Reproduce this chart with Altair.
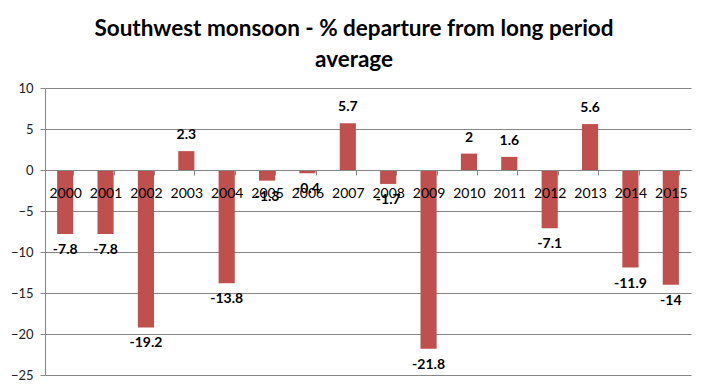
import altair as alt
import pandas as pd

years = ["2000", "2001", "2002", "2003", "2004", "2005", "2006", "2007",
         "2008", "2009", "2010", "2011", "2012", "2013", "2014", "2015"]
values = [-7.8, -7.8, -19.2, 2.3, -13.8, -1.3, -0.4, 5.7,
          -1.7, -21.8, 2, 1.6, -7.1, 5.6, -11.9, -14]
labels = ["-7.8", "-7.8", "-19.2", "2.3", "-13.8", "-1.3", "-0.4", "5.7",
          "-1.7", "-21.8", "2", "1.6", "-7.1", "5.6", "-11.9", "-14"]
y_ticks = [-25, -20, -15, -10, -5, 0, 5, 10]
title_lines = ["Southwest monsoon - % departure from long period", "average"]

df = pd.DataFrame({"year": years, "value": values, "label": labels})

GRID = "#868686"
FONT = "Lato"

x_scale = alt.Scale(paddingInner=0.6, paddingOuter=0.3)
y_scale = alt.Scale(domain=[-25, 10], nice=False)

x_main = alt.X(
    "year:N", sort=years, scale=x_scale,
    axis=alt.Axis(title=None, orient="bottom", offset=-205, tickBand="extent",
                  labelAngle=0, labelFont=FONT, labelFontSize=14, labelColor="black",
                  domainColor=GRID, tickColor=GRID, tickSize=5, labelPadding=11,
                  grid=False, zindex=1),
)
y_main = alt.Y(
    "value:Q", scale=y_scale,
    axis=alt.Axis(title=None, values=y_ticks, grid=True, gridColor=GRID,
                  domainColor=GRID, tickColor=GRID, tickSize=5,
                  labelFont=FONT, labelFontSize=13, labelColor="#222222",
                  labelPadding=7),
)

bars = alt.Chart(df).mark_bar(color="#C0504D").encode(x=x_main, y=y_main)

pos = alt.Chart(df).transform_filter("datum.value >= 0").mark_text(
    baseline="bottom", dy=-9, font=FONT, fontWeight="bold", fontSize=14, color="black"
).encode(x=x_main, y=y_main, text="label:N")

neg = alt.Chart(df).transform_filter("datum.value < 0").mark_text(
    baseline="top", dy=9, font=FONT, fontWeight="bold", fontSize=14, color="black"
).encode(x=x_main, y=y_main, text="label:N")

chart = alt.layer(bars, pos, neg).properties(
    width=646, height=287,
    padding={"left": 37, "top": 80, "right": 9, "bottom": 9},
    autosize=alt.AutoSizeParams(type="none"),
    title=alt.TitleParams(text=title_lines, font=FONT, fontSize=22.5, fontWeight="bold",
                          color="black", anchor="middle", dx=-14, offset=11,
                          lineHeight=31),
).configure_view(stroke=None)

chart.save("out.html", embed_options={"renderer": "svg", "actions": False})
